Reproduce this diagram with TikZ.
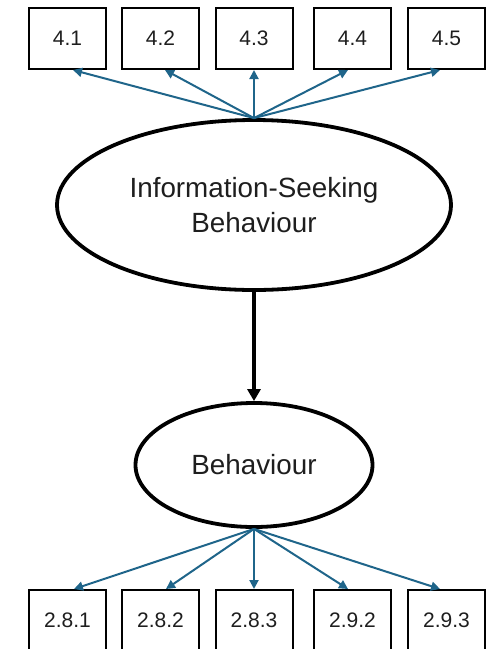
\documentclass[tikz,border=0pt]{standalone}
\usepackage{fontspec}
\setmainfont{Liberation Sans}
\usetikzlibrary{shapes.geometric,arrows.meta}
\definecolor{linkblue}{RGB}{31,101,138}
\definecolor{inktext}{RGB}{30,30,30}
\tikzset{
  itembox/.style={draw=black, line width=2pt, minimum width=77pt, minimum height=61pt,
    inner sep=0pt, font=\fontsize{21}{25}\selectfont, text=inktext},
  latent/.style={ellipse, draw=black, line width=3.8pt, inner sep=0pt,
    font=\fontsize{27.8}{35}\selectfont, text=inktext, align=center},
  loadarrow/.style={draw=linkblue, line width=2pt, -{Triangle[length=9pt,width=9pt]}},
  patharrow/.style={draw=black, line width=3.5pt, -{Triangle[length=12pt,width=13pt]}}
}
\begin{document}
\begin{tikzpicture}[x=1pt, y=-1pt]
  \useasboundingbox (0,0) rectangle (494,649);

  % indicator boxes, top row
  \node[itembox] (a1) at (67.5,38.5) {4.1};
  \node[itembox] (a2) at (160.5,38.5) {4.2};
  \node[itembox] (a3) at (254,38.5) {4.3};
  \node[itembox] (a4) at (352.5,38.5) {4.4};
  \node[itembox] (a5) at (446.5,38.5) {4.5};

  % latent constructs
  \node[latent, minimum width=394pt, minimum height=170pt] (isb) at (254,205)
    {Information-Seeking\\Behaviour};
  \node[latent, minimum width=237pt, minimum height=124pt] (beh) at (254,465)
    {Behaviour};

  % indicator boxes, bottom row
  \node[itembox] (b1) at (67.5,620.5) {2.8.1};
  \node[itembox] (b2) at (160.5,620.5) {2.8.2};
  \node[itembox] (b3) at (254,620.5) {2.8.3};
  \node[itembox] (b4) at (352.5,620.5) {2.9.2};
  \node[itembox] (b5) at (446.5,620.5) {2.9.3};

  % loadings of the upper construct
  \draw[loadarrow] (isb.north) -- ([xshift=5.5pt]a1.south);
  \draw[loadarrow] (isb.north) -- ([xshift=4.5pt]a2.south);
  \draw[loadarrow] (isb.north) -- (a3.south);
  \draw[loadarrow] (isb.north) -- ([xshift=-4.5pt]a4.south);
  \draw[loadarrow] (isb.north) -- ([xshift=-6.5pt]a5.south);

  % structural path
  \draw[patharrow] (isb.south) -- (beh.north);

  % loadings of the lower construct
  \draw[loadarrow] (beh.south) -- ([xshift=6.5pt]b1.north);
  \draw[loadarrow] (beh.south) -- ([xshift=5.5pt]b2.north);
  \draw[loadarrow] (beh.south) -- (b3.north);
  \draw[loadarrow] (beh.south) -- ([xshift=-4.5pt]b4.north);
  \draw[loadarrow] (beh.south) -- ([xshift=-6.5pt]b5.north);
\end{tikzpicture}
\end{document}
